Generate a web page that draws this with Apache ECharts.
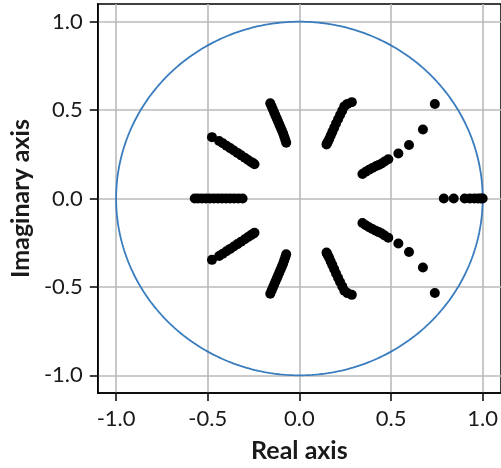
<!DOCTYPE html>
<html>
<head>
<meta charset="utf-8">
<script src="https://cdn.jsdelivr.net/npm/echarts@6/dist/echarts.min.js"></script>
<style>html,body{margin:0;padding:0;background:#fff}#c{width:501px;height:468px}</style>
</head>
<body>
<div id="c"></div>
<script>
// Tick values (both axes)
const tickValues = [-1.0, -0.5, 0.0, 0.5, 1.0];
const axisMin = -1.1, axisMax = 1.1;
const unitCircleRadius = 1;

// Root trajectories, upper half-plane (lower half are complex conjugates)
const realLeftRe = [-0.571, -0.553, -0.532, -0.510, -0.488, -0.466, -0.444, -0.422, -0.400, -0.378, -0.356, -0.333, -0.310];
const realLeftIm = [0, 0, 0, 0, 0, 0, 0, 0, 0, 0, 0, 0, 0];
const realRightRe = [0.788, 0.842, 0.902, 0.930, 0.955, 0.975, 0.990, 1.000];
const realRightIm = [0, 0, 0, 0, 0, 0, 0, 0];
const ray36Re = [0.739, 0.674, 0.598, 0.540, 0.485, 0.465, 0.449, 0.433, 0.417, 0.398, 0.380, 0.362, 0.344];
const ray36Im = [0.534, 0.390, 0.303, 0.254, 0.222, 0.209, 0.198, 0.190, 0.182, 0.172, 0.163, 0.151, 0.139];
const ray64Re = [0.286, 0.262, 0.245, 0.234, 0.222, 0.211, 0.200, 0.190, 0.180, 0.171, 0.163, 0.156, 0.151, 0.148];
const ray64Im = [0.545, 0.535, 0.521, 0.497, 0.472, 0.448, 0.424, 0.400, 0.377, 0.356, 0.337, 0.322, 0.312, 0.306];
const ray106Re = [-0.159, -0.152, -0.145, -0.138, -0.131, -0.124, -0.117, -0.110, -0.103, -0.096, -0.089, -0.083, -0.077, -0.072];
const ray106Im = [0.539, 0.522, 0.505, 0.488, 0.471, 0.454, 0.437, 0.420, 0.403, 0.386, 0.369, 0.350, 0.332, 0.316];
const ray144Re = [-0.477, -0.438, -0.418, -0.398, -0.378, -0.358, -0.338, -0.318, -0.298, -0.280, -0.264, -0.252, -0.245];
const ray144Im = [0.347, 0.325, 0.312, 0.298, 0.285, 0.271, 0.258, 0.244, 0.230, 0.218, 0.207, 0.199, 0.194];

const realRays = [[realLeftRe, realLeftIm], [realRightRe, realRightIm]];
const complexRays = [[ray36Re, ray36Im], [ray64Re, ray64Im], [ray106Re, ray106Im], [ray144Re, ray144Im]];

const rootPoints = [];
realRays.forEach(([re, im]) => re.forEach((r, i) => rootPoints.push([r, im[i]])));
complexRays.forEach(([re, im]) => re.forEach((r, i) => {
  rootPoints.push([r, im[i]]);
  rootPoints.push([r, -im[i]]); // complex conjugate
}));

const circlePts = [];
for (let d = 0; d <= 360; d += 1) {
  const a = d * Math.PI / 180;
  circlePts.push([unitCircleRadius * Math.cos(a), unitCircleRadius * Math.sin(a)]);
}

const FONT = 'Lato';
const fmt = v => v.toFixed(1);
const axisCommon = {
  type: 'value', min: axisMin, max: axisMax,
  axisLine: { show: true, onZero: false, lineStyle: { color: '#000', width: 1.5 } },
  axisTick: { show: true, length: 8, inside: false, customValues: tickValues, lineStyle: { color: '#000', width: 1.5 } },
  axisLabel: { customValues: tickValues, formatter: fmt, color: '#1a1a1a', fontFamily: FONT, fontSize: 22 },
  splitLine: { show: true, lineStyle: { color: '#bababa', width: 1.6 } }
};
const nameStyle = { fontFamily: FONT, fontWeight: 'bold', fontSize: 25, color: '#1a1a1a' };

const chart = echarts.init(document.getElementById('c'), null, { renderer: 'canvas' });
chart.setOption({
  animation: false,
  backgroundColor: '#fff',
  grid: { left: 97, top: 4, width: 405, height: 394, show: true, borderColor: '#000', borderWidth: 1.5, backgroundColor: 'transparent' },
  xAxis: Object.assign({}, axisCommon, {
    axisLabel: Object.assign({}, axisCommon.axisLabel, { margin: 15 }),
    name: 'Real axis', nameLocation: 'middle', nameGap: 45, nameTextStyle: nameStyle
  }),
  yAxis: Object.assign({}, axisCommon, {
    axisLabel: Object.assign({}, axisCommon.axisLabel, { margin: 15 }),
    name: 'Imaginary axis', nameLocation: 'middle', nameGap: 62, nameTextStyle: nameStyle
  }),
  series: [
    { type: 'line', data: circlePts, showSymbol: false, smooth: false, z: 2,
      lineStyle: { color: '#3a7dbf', width: 1.8 } },
    { type: 'scatter', data: rootPoints, symbol: 'circle', symbolSize: 10, z: 3,
      itemStyle: { color: '#000', opacity: 1 } }
  ]
});
</script>
</body>
</html>
